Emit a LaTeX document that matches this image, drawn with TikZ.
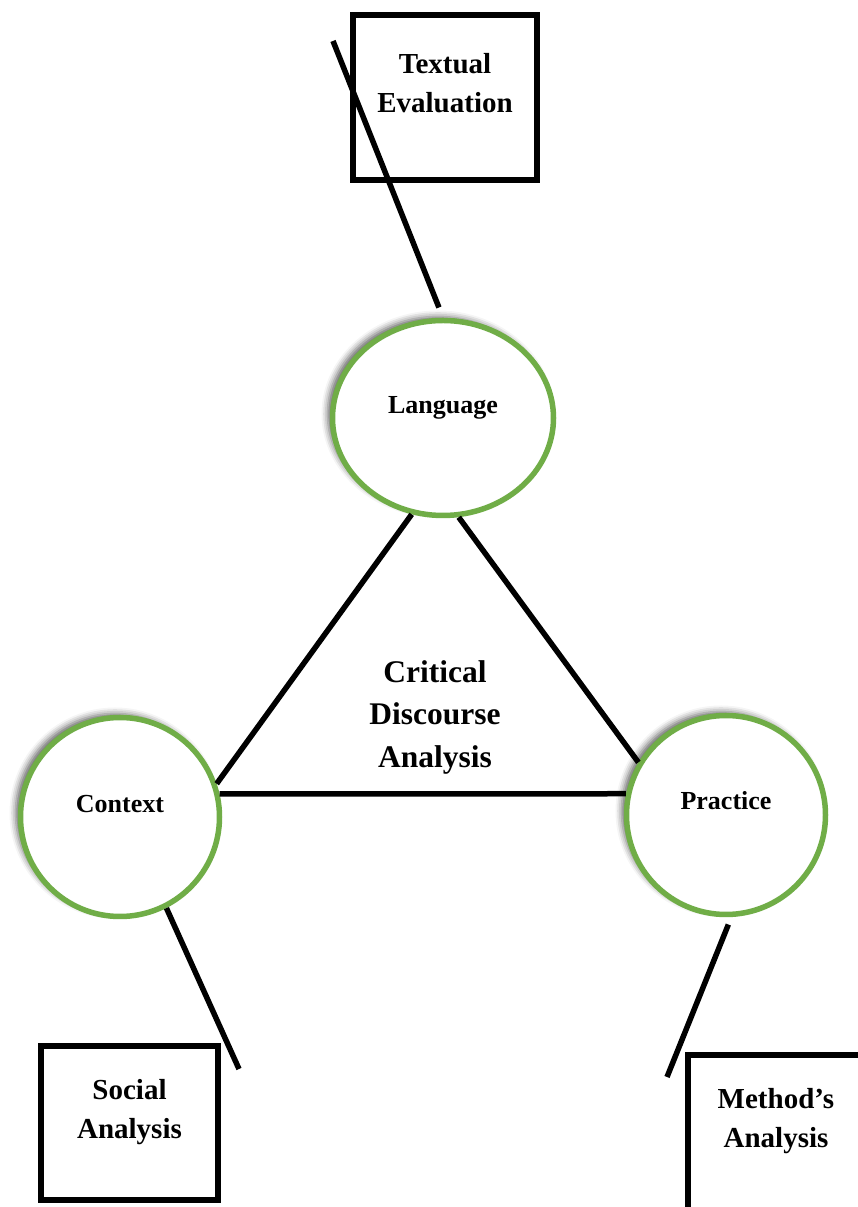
\documentclass[tikz,border=0pt]{standalone}
\usepackage{fontspec}
\setmainfont{Liberation Serif}
\usetikzlibrary{
  shapes.geometric,
  shadows.blur,
}
\definecolor{cdagreen}{RGB}{112,173,71}

\begin{document}
\begin{tikzpicture}[
  x=1pt, y=1pt,
  line width=5.5pt,
  font=\bfseries,
  topic/.style={
     draw=cdagreen,
     fill=white,
     line width=5.5pt,
     inner sep=0pt,
     blur shadow={shadow xshift=-5pt, shadow yshift=4pt,
                  shadow blur radius=6pt, shadow opacity=60},
  },
  frame/.style={
     rectangle,
     draw,
     line width=6pt,
     inner sep=0pt,
  },
  topictext/.style={font=\fontsize{26}{30}\selectfont\bfseries},
  frametext/.style={align=center, font=\fontsize{29}{39}\selectfont\bfseries},
]
   \useasboundingbox (0,0) rectangle (857,1207);

   \node[frame, minimum width=184pt, minimum height=165pt,
         label={[frametext, yshift=14pt]center:{Textual\\Evaluation}}] (te) at (445,1109.5) {};
   \node[frame, minimum width=177pt, minimum height=154pt,
         label={[frametext, yshift=11pt]center:{Social\\Analysis}}] (soc) at (129.5,84) {};
   \node[frame, minimum width=250pt, minimum height=200pt,
         label={[frametext, xshift=-37pt, yshift=34pt]center:{Method’s\\Analysis}}] (meth) at (813,52) {};

   \node[topic, ellipse, minimum width=221pt, minimum height=195pt,
         label={[topictext, yshift=10pt]center:Language}] (lang) at (443,789) {};
   \node[topic, circle, minimum size=199pt,
         label={[topictext, yshift=13pt]center:Context}] (ctx) at (120,390) {};
   \node[topic, circle, minimum size=199pt,
         label={[topictext, yshift=14pt]center:Practice}] (prac) at (726,392) {};

   \node[align=center, font=\fontsize{31.5}{42.5}\selectfont\bfseries] (cda) at (435,490)
      {Critical\\Discourse\\Analysis};

   \coordinate (te-end) at ([shift={(-17,-29)}]te.north west);
   \coordinate (soc-end) at ([shift={(18,-26)}]soc.north east);
   \coordinate (meth-end) at ([shift={(-18,-25)}]meth.north west);

   \draw (lang.252) -- (ctx.19.5);
   \draw (lang.279) -- (prac.149);
   \draw (ctx.13) -- (prac.168);
   \draw[shorten <=11pt] (lang.north) -- (te-end);
   \draw (ctx.297) -- (soc-end);
   \draw[shorten <=8pt] (prac.273) -- (meth-end);
\end{tikzpicture}
\end{document}
